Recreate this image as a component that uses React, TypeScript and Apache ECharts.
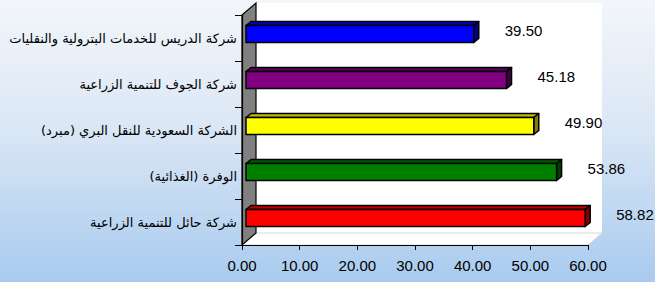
import React, { useEffect, useRef } from "react";
import * as echarts from "echarts";

const categories = [
  "شركة الدريس للخدمات البترولية والنقليات",
  "شركة الجوف للتنمية الزراعية",
  "الشركة السعودية للنقل البري (مبرد)",
  "الوفرة (الغذائية)",
  "شركة حائل للتنمية الزراعية",
];
const values = [39.5, 45.18, 49.9, 53.86, 58.82];
const frontColors = ["#0000FF", "#800080", "#FFFF00", "#008000", "#FF0000"];
const topColors = ["#0000B8", "#5C005C", "#BDBD00", "#005C00", "#C00000"];
const sideColors = ["#000080", "#400040", "#808000", "#004000", "#800000"];

// layout (pixels)
const GL = 242, GT = 15, GR = 588, GB = 245;
const DX = 14, DY = 12;

export default function App() {
  const ref = useRef<HTMLDivElement>(null);
  useEffect(() => {
    document.body.style.margin = "0";
    const chart = echarts.init(ref.current!, null, { renderer: "svg" });
    const option: any = {
      animation: false,
      backgroundColor: new echarts.graphic.LinearGradient(0, 0, 0, 1, [
        { offset: 0, color: "#f3f6fb" },
        { offset: 0.45, color: "#dbe7f5" },
        { offset: 1, color: "#a9cbef" },
      ]),
      grid: { left: GL, top: GT, right: 655 - GR, bottom: 282 - GB },
      graphic: {
        elements: [
          {
            type: "rect",
            z: 0,
            shape: { x: GL + DX, y: GT - DY, width: GR - GL, height: GB - GT },
            style: { fill: "#ffffff" },
          },
          {
            type: "polygon",
            z: 0,
            shape: {
              points: [
                [GL, GB],
                [GR, GB],
                [GR + DX, GB - DY],
                [GL + DX, GB - DY],
              ],
            },
            style: { fill: "#ffffff", stroke: "#d8d8d8", lineWidth: 1 },
          },
          {
            type: "polygon",
            z: 1,
            shape: {
              points: [
                [GL, GT],
                [GL + DX, GT - DY],
                [GL + DX, GB - DY],
                [GL, GB],
              ],
            },
            style: { fill: "#808080", stroke: "#000000", lineWidth: 1.2 },
          },
        ],
      },
      xAxis: {
        type: "value",
        min: 0,
        max: 60,
        interval: 10,
        z: 5,
        axisLine: { show: true, lineStyle: { color: "#000", width: 1.2 } },
        axisTick: { show: true, length: 5, lineStyle: { color: "#000" } },
        splitLine: { show: false },
        axisLabel: {
          margin: 13,
          color: "#000",
          fontSize: 15,
          fontFamily: "Liberation Sans, Arial, sans-serif",
          formatter: (v: number) => v.toFixed(2),
        },
      },
      yAxis: {
        type: "category",
        data: categories,
        inverse: true,
        z: 5,
        axisLine: { show: true, lineStyle: { color: "#000", width: 1.2 } },
        axisTick: { show: true, length: 7, lineStyle: { color: "#000" } },
        axisLabel: {
          margin: 5,
          color: "#000",
          fontSize: 13,
          fontFamily: "DejaVu Sans, sans-serif",
        },
      },
      series: [
        {
          type: "custom",
          z: 10,
          data: values.map((v, i) => [v, i]),
          encode: { x: 0, y: 1 },
          renderItem: (params: any, api: any) => {
            const v = api.value(0);
            const c = api.value(1);
            const i = params.dataIndex;
            const p0 = api.coord([0, c]);
            const p1 = api.coord([v, c]);
            const cy = p0[1] - 4;
            const h = 17;
            const x0 = p0[0] + 4;
            const x1 = p1[0] + 4;
            const yT = cy - h / 2;
            const yB = cy + h / 2;
            const dx = 5, dy = 4;
            const stroke = { stroke: "#000", lineWidth: 1.5, lineJoin: "round" };
            return {
              type: "group",
              children: [
                {
                  type: "polygon",
                  shape: { points: [[x0, yT], [x1, yT], [x1 + dx, yT - dy], [x0 + dx, yT - dy]] },
                  style: { fill: topColors[i], ...stroke },
                },
                {
                  type: "polygon",
                  shape: { points: [[x1, yT], [x1 + dx, yT - dy], [x1 + dx, yB - dy], [x1, yB]] },
                  style: { fill: sideColors[i], ...stroke },
                },
                {
                  type: "rect",
                  shape: { x: x0, y: yT, width: x1 - x0, height: h },
                  style: { fill: frontColors[i], ...stroke },
                },
                {
                  type: "text",
                  style: {
                    text: v.toFixed(2),
                    x: x1 + dx + 26,
                    y: cy - 4,
                    fill: "#000",
                    fontSize: 15,
                    fontFamily: "Liberation Sans, Arial, sans-serif",
                    verticalAlign: "middle",
                    align: "left",
                  },
                },
              ],
            };
          },
        },
      ],
    };
    chart.setOption(option);
    return () => chart.dispose();
  }, []);
  return (
    <div
      ref={ref}
      style={{ position: "absolute", left: 0, top: 0, width: 655, height: 282 }}
    />
  );
}
